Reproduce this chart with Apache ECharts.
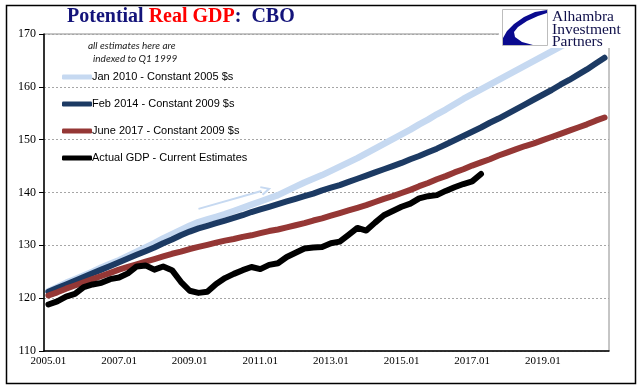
<!DOCTYPE html>
<html>
<head>
<meta charset="utf-8">
<script src="https://cdn.jsdelivr.net/npm/echarts@6/dist/echarts.min.js"></script>
<style>
html,body{margin:0;padding:0;background:#fff;}
#c{width:641px;height:392px;}
</style>
</head>
<body>
<div id="c"></div>
<script>
// Quarterly categories 2005Q1 .. 2020Q4
const years = ['2005','2006','2007','2008','2009','2010','2011','2012','2013','2014','2015','2016','2017','2018','2019','2020'];
const months = ['01','04','07','10'];
const categories = [];
years.forEach(y => months.forEach(m => categories.push(y + '.' + m)));

const seriesNames = [
  'Jan 2010 - Constant 2005 $s',
  'Feb 2014 - Constant 2009 $s',
  'June 2017 - Constant 2009 $s',
  'Actual GDP - Current Estimates'
];

const jan2010 = [121.3,122.1,122.9,123.6,124.3,125.0,125.8,126.5,127.2,128.0,128.8,129.6,130.4,131.3,132.1,132.9,
  133.7,134.4,134.9,135.4,135.9,136.5,137.1,137.7,138.3,138.9,139.5,140.3,141.1,141.9,142.6,143.3,
  144.1,144.9,145.7,146.5,147.4,148.3,149.2,150.1,151.0,151.9,152.9,153.8,154.8,155.7,156.7,157.7,
  158.6,159.5,160.4,161.3,162.2,163.1,164.0,164.9,165.8,166.7,167.6,168.5,169.4,170.3,171.2,172.1];

const feb2014 = [121.2,121.9,122.6,123.3,124.0,124.7,125.4,126.1,126.8,127.5,128.2,128.9,129.6,130.4,131.1,131.9,
  132.6,133.2,133.7,134.2,134.7,135.2,135.7,136.3,136.8,137.3,137.8,138.3,138.8,139.3,139.8,140.4,
  140.9,141.4,142.0,142.6,143.2,143.8,144.4,145.0,145.6,146.3,146.9,147.6,148.3,149.1,149.9,150.7,
  151.5,152.3,153.2,154.0,154.9,155.8,156.7,157.6,158.5,159.4,160.4,161.3,162.3,163.3,164.4,165.5];

const june2017 = [120.5,121.1,121.8,122.4,123.0,123.6,124.2,124.8,125.4,125.9,126.4,126.9,127.4,127.9,128.4,128.8,
  129.3,129.7,130.1,130.5,130.9,131.2,131.6,131.9,132.3,132.7,133.0,133.4,133.8,134.2,134.7,135.1,
  135.6,136.1,136.6,137.1,137.6,138.2,138.8,139.3,139.9,140.5,141.2,141.8,142.5,143.1,143.8,144.4,
  145.1,145.7,146.3,147.0,147.6,148.2,148.8,149.3,149.9,150.5,151.1,151.7,152.3,152.9,153.6,154.2];

const actualGDP = [118.8,119.4,120.3,120.8,122.1,122.6,122.9,123.6,123.9,124.7,126.0,126.2,125.4,126.0,125.3,123.1,
  121.4,121.0,121.2,122.7,123.8,124.6,125.3,125.9,125.5,126.3,126.6,127.8,128.6,129.4,129.6,129.7,
  130.4,130.7,132.0,133.3,132.8,134.3,135.7,136.5,137.3,137.9,138.9,139.3,139.5,140.3,141.0,141.6,
  142.1,143.5];

const yTicks = [110,120,130,140,150,160,170];

const colors = ['#c6d9f1', '#1c3a63', '#953735', '#000000'];
const seriesData = [jan2010, feb2014, june2017, actualGDP];

const chart = echarts.init(document.getElementById('c'), null, {renderer: 'canvas'});

const option = {
  animation: false,
  backgroundColor: '#ffffff',
  title: {
    left: 67, top: 7, padding: 0,
    text: '{a|Potential }{b|Real GDP}{a|:  CBO}',
    textStyle: {
      rich: {
        a: {fontFamily: 'Liberation Serif', fontSize: 20, color: '#14147a'},
        b: {fontFamily: 'Liberation Serif', fontSize: 20, fontWeight: 'bold', color: '#ff0000'}
      }
    }
  },
  legend: {
    orient: 'vertical',
    left: 62, top: 70,
    itemWidth: 30, itemHeight: 5,
    itemGap: 13,
    icon: 'roundRect',
    padding: 0,
    selectedMode: false,
    textStyle: {fontFamily: 'Liberation Sans', fontSize: 11, color: '#000', lineHeight: 14, padding: [0,0,0,-5]},
    data: seriesNames
  },
  grid: {
    left: 44, right: 32, top: 34, bottom: 41,
    show: true, borderColor: '#8c8c8c', borderWidth: 1, containLabel: false
  },
  xAxis: {
    type: 'category',
    data: categories,
    boundaryGap: true,
    axisLine: {lineStyle: {color: '#000', width: 1.5}},
    axisTick: {interval: 7, length: 5, lineStyle: {color: '#000'}},
    axisLabel: {interval: 7, margin: 5, fontFamily: 'Liberation Serif', fontSize: 11, color: '#000'},
    splitLine: {show: false}
  },
  yAxis: {
    type: 'value',
    min: yTicks[0], max: yTicks[yTicks.length - 1], interval: 10,
    axisLine: {show: true, lineStyle: {color: '#000', width: 1.5}},
    axisTick: {show: true, length: 5, lineStyle: {color: '#000'}},
    axisLabel: {margin: 8, fontFamily: 'Liberation Serif', fontSize: 12, color: '#000'},
    splitLine: {show: true, lineStyle: {color: '#a6a6a6', type: [2, 2], width: 1}}
  },
  series: seriesNames.map((n, i) => ({
    name: n,
    type: 'line',
    data: seriesData[i],
    symbol: 'none',
    clip: true,
    z: 2 + i,
    itemStyle: {color: colors[i]},
    lineStyle: {color: colors[i], width: i === 0 ? 6.5 : 6, cap: 'round', join: 'round'}
  }))
};
chart.setOption(option);

// Annotation arrow (data coordinates converted via the chart's own scales)
const arrowStart = [17.4, 136.9];
const arrowEnd = [25.3, 140.7];
const p1 = chart.convertToPixel({gridIndex: 0}, arrowStart);
const p2 = chart.convertToPixel({gridIndex: 0}, arrowEnd);
const ang = Math.atan2(p2[1] - p1[1], p2[0] - p1[0]);
const hl = 8, hw = 4;
const back = [p2[0] - hl * Math.cos(ang), p2[1] - hl * Math.sin(ang)];
const head = [
  p2,
  [back[0] + hw * Math.sin(ang), back[1] - hw * Math.cos(ang)],
  [back[0] - hw * Math.sin(ang), back[1] + hw * Math.cos(ang)]
];

const logoShape = [[547,10],[535,12],[524,17],[514,24],[507,31],[503,38],[503,45],[533,45],[522,42],[515,37],[514,32],[518,27],[527,21],[538,16],[547,13]];

chart.setOption({
  graphic: [
    {type: 'line', z: 10, shape: {x1: p1[0], y1: p1[1], x2: back[0], y2: back[1]}, style: {stroke: '#c6d9f1', lineWidth: 2}},
    {type: 'polyline', z: 10, shape: {points: [head[1], head[0], head[2]]}, style: {stroke: '#c6d9f1', lineWidth: 2, fill: null}},
    {type: 'text', z: 10, x: 88, y: 41, style: {text: 'all estimates here are', font: 'italic 10px Lato', fill: '#1a1a1a'}},
    {type: 'text', z: 10, x: 93, y: 54, style: {text: 'indexed to Q1 1999', font: 'italic 10px Lato', fill: '#1a1a1a'}},
    // logo block
    {type: 'rect', z: 20, shape: {x: 499, y: 6, width: 134, height: 42}, style: {fill: '#fff'}},
    {type: 'rect', z: 21, shape: {x: 502.5, y: 9.5, width: 45, height: 36}, style: {fill: '#fff', stroke: '#bdbdbd', lineWidth: 1}},
    {type: 'polygon', z: 22, shape: {points: logoShape}, style: {fill: '#0a0a8f'}},
    {type: 'text', z: 22, x: 552, y: 11, style: {text: 'Alhambra\nInvestment\nPartners', font: '15.5px Liberation Serif', lineHeight: 12.5, fill: '#10104a'}},
    // outer frame
    {type: 'rect', z: 30, shape: {x: 6.5, y: 5.5, width: 629, height: 378}, style: {fill: null, stroke: '#000', lineWidth: 1.5}}
  ]
});
</script>
</body>
</html>
